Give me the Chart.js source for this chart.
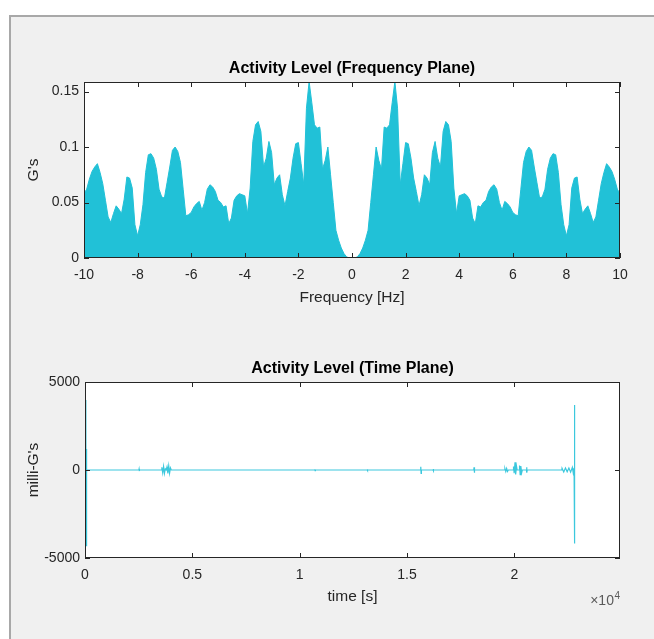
<!DOCTYPE html>
<html>
<head>
<meta charset="utf-8">
<title>Activity Level</title>
<script src="https://cdn.jsdelivr.net/npm/chart.js@4.4.1/dist/chart.umd.min.js"></script>
<style>
  html, body { margin: 0; padding: 0; background: #fff; }
  body { width: 654px; height: 639px; position: relative; overflow: hidden; }
  .frame {
    position: absolute; left: 9px; top: 15px; width: 700px; height: 700px;
    background: #f0f0f0; border: 2px solid #a8a8a8; box-sizing: border-box;
  }
  canvas { position: absolute; left: 0; }
  #freqChart { top: 0; }
  #timeChart { top: 330px; }
</style>
</head>
<body>
<div class="frame"></div>
<canvas id="freqChart" width="654" height="330"></canvas>
<canvas id="timeChart" width="654" height="309"></canvas>
<script>
/* Activity level — frequency plane + time plane */

// one-sided spectrum, 0 .. 10 Hz in 0.1 Hz bins (G's); the two-sided plot is mirrored about 0 Hz
const FREQ_STEP = 0.1;
const FREQ_AMP = [
  0,     0,     0.001, 0.004, 0.009, 0.016, 0.025, 0.050, 0.075, 0.100,
  0.088, 0.080, 0.118, 0.117, 0.120, 0.140, 0.159, 0.135, 0.066, 0.085,
  0.104, 0.103, 0.090, 0.072, 0.060, 0.047, 0.057, 0.075, 0.072, 0.066,
  0.095, 0.105, 0.090, 0.082, 0.114, 0.123, 0.120, 0.105, 0.063, 0.040,
  0.056, 0.057, 0.058, 0.056, 0.052, 0.036, 0.031, 0.047, 0.046, 0.050,
  0.052, 0.060, 0.064, 0.066, 0.062, 0.050, 0.043, 0.051, 0.049, 0.046,
  0.041, 0.039, 0.038, 0.062, 0.086, 0.096, 0.100, 0.097, 0.082, 0.068,
  0.054, 0.055, 0.062, 0.080, 0.090, 0.094, 0.093, 0.077, 0.048, 0.030,
  0.020, 0.030, 0.063, 0.072, 0.073, 0.053, 0.040, 0.044, 0.047, 0.040,
  0.032, 0.037, 0.052, 0.067, 0.077, 0.085, 0.082, 0.078, 0.071, 0.062,
  0.058
];
const FREQ_X_TICKS = [-10, -8, -6, -4, -2, 0, 2, 4, 6, 8, 10];
const FREQ_Y_TICKS = [0, 0.05, 0.1, 0.15];

// time plane: flat trace with a few bursts (s, milli-G's)
const TIME_S = [
  40, 50, 60, 70, 90,
  2510, 2520, 2530, 2540,
  3570, 3580, 3620, 3660, 3700, 3740, 3780, 3820, 3860, 3900, 3940, 3980, 4020,
  10700, 10710, 10720, 10730,
  13140, 13150, 13160, 13170,
  15630, 15640, 15655, 15670,
  16210, 16220, 16230, 16240,
  18110, 18120, 18135, 18150,
  19550, 19560, 19600, 19640, 19680, 19720,
  19950, 19960, 19990, 20030, 20060, 20100, 20130,
  20230, 20240, 20270, 20300, 20340, 20370,
  20560, 20570, 20585, 20600,
  22210, 22220, 22300, 22380, 22460, 22540, 22620, 22700, 22740, 22780, 22795, 22805, 22815
];
const MILLI_G = [
  3980, -4300, 1200, -600, 0,
  0, 60, -60, 0,
  0, 150, -160, 200, -190, 60, 0, 180, -200, 230, -180, 120, 0,
  0, 40, -40, 0,
  0, 40, -40, 0,
  0, 190, -190, 0,
  0, 50, -50, 0,
  0, 150, -150, 0,
  0, 80, -90, 90, -80, 0,
  0, 200, -180, 440, -250, 220, 0,
  0, 250, -260, 230, -150, 0,
  0, 150, -150, 0,
  0, 100, -110, 120, -100, 110, -120, 150, -150, 120, 3700, -4170, 0
];
const TIME_X_TICKS = [0, 5000, 10000, 15000, 20000];
const TIME_Y_TICKS = [-5000, 0, 5000];

const FILL_COLOR = '#21c1d7';
const LINE_COLOR = '#3cc8dd';
const AXIS_COLOR = '#262626';

Chart.defaults.font.family = '"Liberation Sans", Arial, Helvetica, sans-serif';
Chart.defaults.color = AXIS_COLOR;

let charts = {};

// MATLAB-style axes: white plot area, full box, ticks pointing inward, optional x exponent
const matlabAxes = {
  id: 'matlabAxes',
  beforeDraw(chart) {
    const { ctx, chartArea: a } = chart;
    ctx.save();
    ctx.fillStyle = '#fff';
    ctx.fillRect(a.left, a.top, a.width, a.height);
    ctx.restore();
  },
  afterDraw(chart, args, opts) {
    const { ctx, chartArea: a, scales: { x, y } } = chart;
    const len = 5;
    ctx.save();
    ctx.strokeStyle = AXIS_COLOR;
    ctx.lineWidth = 1;
    ctx.strokeRect(Math.round(a.left) + 0.5, Math.round(a.top) + 0.5,
                   Math.round(a.width) - 1, Math.round(a.height) - 1);
    ctx.beginPath();
    x.ticks.forEach(t => {
      const px = Math.round(x.getPixelForValue(t.value)) + 0.5;
      ctx.moveTo(px, a.bottom); ctx.lineTo(px, a.bottom - len);
      ctx.moveTo(px, a.top);    ctx.lineTo(px, a.top + len);
    });
    y.ticks.forEach(t => {
      const py = Math.round(y.getPixelForValue(t.value)) + 0.5;
      ctx.moveTo(a.left, py);  ctx.lineTo(a.left + len, py);
      ctx.moveTo(a.right, py); ctx.lineTo(a.right - len, py);
    });
    ctx.stroke();

    if (opts && opts.exponent) {
      const fam = Chart.defaults.font.family;
      ctx.fillStyle = '#5a5a5a';
      ctx.textBaseline = 'alphabetic';
      ctx.font = '10px ' + fam;
      ctx.textAlign = 'right';
      const baseY = a.bottom + 47;
      ctx.fillText(opts.exponent, a.right, baseY - 6);
      const expW = ctx.measureText(opts.exponent).width;
      ctx.font = '14px ' + fam;
      ctx.fillText('\u00d710', a.right - expW - 0.5, baseY);
    }
    ctx.restore();
  }
};

function axisTicks(list) {
  return scale => { scale.ticks = list.map(v => ({ value: v })); };
}

function renderFrequencyChart() {
  const ctx = document.getElementById('freqChart');
  if (charts.freq) charts.freq.destroy();

  const points = [];
  for (let i = FREQ_AMP.length - 1; i > 0; i--) points.push({ x: -i * FREQ_STEP, y: FREQ_AMP[i] });
  FREQ_AMP.forEach((v, i) => points.push({ x: i * FREQ_STEP, y: v }));

  charts.freq = new Chart(ctx, {
    type: 'line',
    data: {
      datasets: [{
        data: points,
        borderColor: FILL_COLOR,
        backgroundColor: FILL_COLOR,
        borderWidth: 1,
        fill: 'origin',
        tension: 0,
        pointRadius: 0,
      }]
    },
    options: {
      responsive: false,
      animation: false,
      devicePixelRatio: 1,
      layout: { padding: { top: 55, right: 34, left: 0, bottom: 0 } },
      plugins: {
        legend: { display: false },
        tooltip: { enabled: false },
        title: {
          display: true, fullSize: false,
          text: 'Activity Level (Frequency Plane)',
          color: '#000',
          font: { size: 16, weight: 'bold' },
          padding: { top: 4.4, bottom: 3.4 }
        },
        matlabAxes: {}
      },
      scales: {
        x: {
          type: 'linear', min: -10, max: 10,
          afterBuildTicks: axisTicks(FREQ_X_TICKS),
          afterFit: s => { s.height = 72; },
          grid: { display: false, drawTicks: false },
          border: { display: false },
          ticks: { font: { size: 14 }, padding: 8.5, maxRotation: 0, autoSkip: false, callback: v => String(v) },
          title: { display: true, text: 'Frequency [Hz]', font: { size: 15.5 }, padding: { top: 0, bottom: 22.7 } }
        },
        y: {
          min: 0, max: 0.1586,
          afterBuildTicks: axisTicks(FREQ_Y_TICKS),
          afterFit: s => { s.width = 84; },
          grid: { display: false, drawTicks: false },
          border: { display: false },
          ticks: { font: { size: 14 }, padding: 5, callback: v => String(v) },
          title: { display: true, text: "G's", font: { size: 15.5 }, padding: { top: 24.7, bottom: 0 } }
        }
      }
    },
    plugins: [matlabAxes]
  });
}

function renderTimeChart() {
  const ctx = document.getElementById('timeChart');
  if (charts.time) charts.time.destroy();

  charts.time = new Chart(ctx, {
    type: 'line',
    data: {
      datasets: [{
        data: TIME_S.map((t, i) => ({ x: t, y: MILLI_G[i] })),
        borderColor: LINE_COLOR,
        borderWidth: 1.2,
        fill: false,
        pointRadius: 0,
        tension: 0,
      }]
    },
    options: {
      responsive: false,
      animation: false,
      devicePixelRatio: 1,
      layout: { padding: { top: 26, right: 34, left: 0, bottom: 0 } },
      plugins: {
        legend: { display: false },
        tooltip: { enabled: false },
        title: {
          display: true, fullSize: false,
          text: 'Activity Level (Time Plane)',
          color: '#000',
          font: { size: 16, weight: 'bold' },
          padding: { top: 3.4, bottom: 3.4 }
        },
        matlabAxes: { exponent: '4' }
      },
      scales: {
        x: {
          type: 'linear', min: 0, max: 24920,
          afterBuildTicks: axisTicks(TIME_X_TICKS),
          afterFit: s => { s.height = 81; },
          grid: { display: false, drawTicks: false },
          border: { display: false },
          ticks: { font: { size: 14 }, padding: 8.5, maxRotation: 0, autoSkip: false, callback: v => String(v / 1e4) },
          title: { display: true, text: 'time [s]', font: { size: 15.5 }, padding: { top: 0, bottom: 33 } }
        },
        y: {
          min: -5000, max: 5000,
          afterBuildTicks: axisTicks(TIME_Y_TICKS),
          afterFit: s => { s.width = 85; },
          grid: { display: false, drawTicks: false },
          border: { display: false },
          ticks: { font: { size: 14 }, padding: 5, callback: v => String(v) },
          title: { display: true, text: "milli-G's", font: { size: 15.5 }, padding: { top: 24.7, bottom: 0 } }
        }
      }
    },
    plugins: [matlabAxes]
  });
}

renderFrequencyChart();
renderTimeChart();
</script>
</body>
</html>
